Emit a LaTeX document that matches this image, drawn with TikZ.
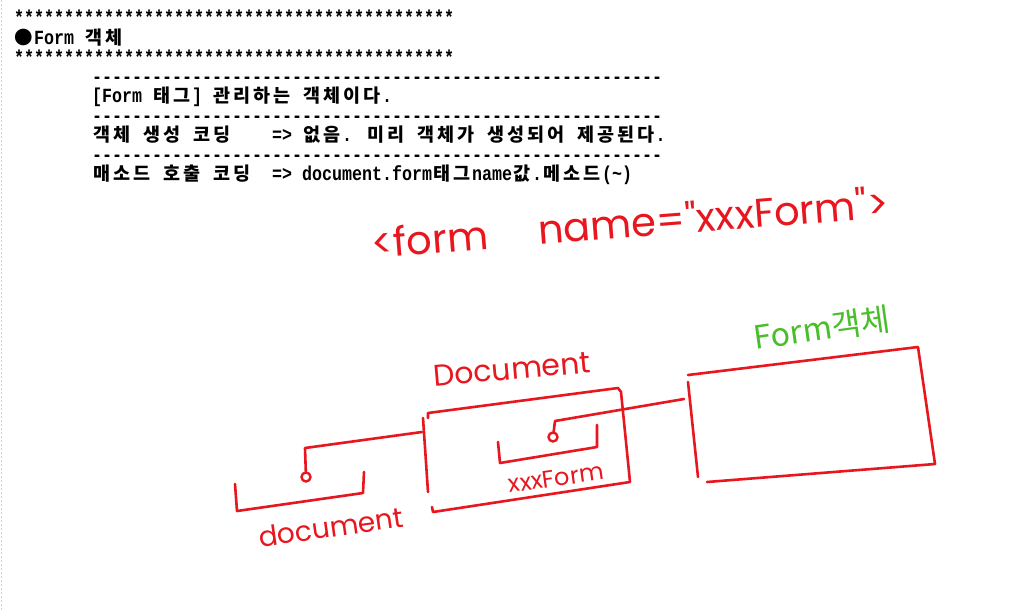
\documentclass[tikz,border=0pt]{standalone}
\usepackage{fontspec}
\setmainfont{Liberation Mono}[FakeStretch=0.83]
\newfontfamily\krfont{Noto Sans CJK KR}
\newfontfamily\handfont{Poppins}

\definecolor{pen}{RGB}{232,22,30}
\definecolor{greenpen}{RGB}{72,190,42}

% korean text: one glyph per double cell, like the editor
\let\Kstop\relax
\newcommand\K[1]{\Kloop#1\Kstop}
\def\Kloop#1{\ifx#1\Kstop\else\makebox[20pt][c]{\krfont\bfseries\fontsize{18.5}{20}\selectfont#1}\expandafter\Kloop\fi}
\newcommand\stars{********************************************}
\newcommand\dashrow{\foreach\i in {1,...,57}{-\kern0pt}}

\tikzset{
  txt/.style={anchor=base west, inner sep=0pt, font=\bfseries\fontsize{20.08}{20}\selectfont},
  hand/.style={inner sep=0pt, text=pen, font=\handfont},
  ink/.style={draw=pen, line width=2.6pt, line cap=round, line join=round},
  refdot/.style={circle, draw=pen, line width=2.4pt, minimum size=9pt, inner sep=0pt}
}

\begin{document}
\begin{tikzpicture}[x=1pt,y=-1pt]
\useasboundingbox (0,0) rectangle (1028,611);
\fill[white] (0,0) rectangle (1028,611);
\draw[gray!35, dash pattern=on 2pt off 2pt] (1,0) -- (1,611);

% editor text
\node[txt] (stars1) at (14,24.5) {\stars};
\node[txt] (title) at (14,44) {\K{●}Form \K{객체}};
\node[txt] (stars2) at (14,64.5) {\stars};
\node[txt] (rule1) at (92,83) {\dashrow};
\node[txt] (line1) at (92,102.5) {[Form \K{태그}] \K{관리하는} \K{객체이다}.};
\node[txt] (rule2) at (92,122) {\dashrow};
\node[txt] (make) at (92,141.5) {\K{객체} \K{생성} \K{코딩}};
\node[txt] (makeval) at (272,141.5) {=> \K{없음}. \K{미리} \K{객체가} \K{생성되어} \K{제공된다}.};
\node[txt] (rule3) at (92,161) {\dashrow};
\node[txt] (call) at (92,180.5) {\K{매소드} \K{호출} \K{코딩}};
\node[txt] (callval) at (272,180.5) {=> document.form\K{태그}name\K{값}.\K{메소드}(\textasciitilde)};

% handwriting
\node[hand, font=\handfont\fontsize{40}{40}\selectfont, rotate=4.5] (tag) at (630,222) {<form\hspace{50pt}name=\char34 xxxForm\char34>};
\node[hand, font=\handfont\fontsize{30}{30}\selectfont, rotate=5] (doclabel) at (512,369) {Document};
\node[hand, font=\handfont\fontsize{24}{24}\selectfont, rotate=8] (namelabel) at (556,478) {xxxForm};
\node[hand, font=\handfont\fontsize{28}{28}\selectfont, rotate=8] (varlabel) at (331,527) {document};
\node[hand, text=greenpen, font=\krfont\fontsize{32}{32}\selectfont, rotate=8] (formlabel) at (822,328) {Form객체};

% document variable
\draw[ink] (235,484) -- (237,511) -- (363,493) -- (364,472);
\node[refdot] (docref) at (306,477) {};

% document object
\draw[ink] (423,418) -- (428,492);
\draw[ink] (428,418) -- (428,413) -- (618,388) -- (621,392) -- (630,482) -- (433,512) -- (432,507);
\draw[ink] (498,442) -- (500,463) -- (597,447) -- (597,425);
\node[refdot] (formref) at (553,437) {};

% form object
\draw[ink] (688,375) -- (918,347) -- (935,464) -- (707,482);
\draw[ink] (688,382) -- (698,477);

% references
\coordinate (docbend) at (305,448);
\coordinate (docin) at (422,432);
\draw[ink] (docref) -- (docbend) -- (docin);
\coordinate (formbend) at (555,421);
\coordinate (formin) at (684,399);
\draw[ink] (formref) -- (formbend) -- (formin);
\end{tikzpicture}
\end{document}
